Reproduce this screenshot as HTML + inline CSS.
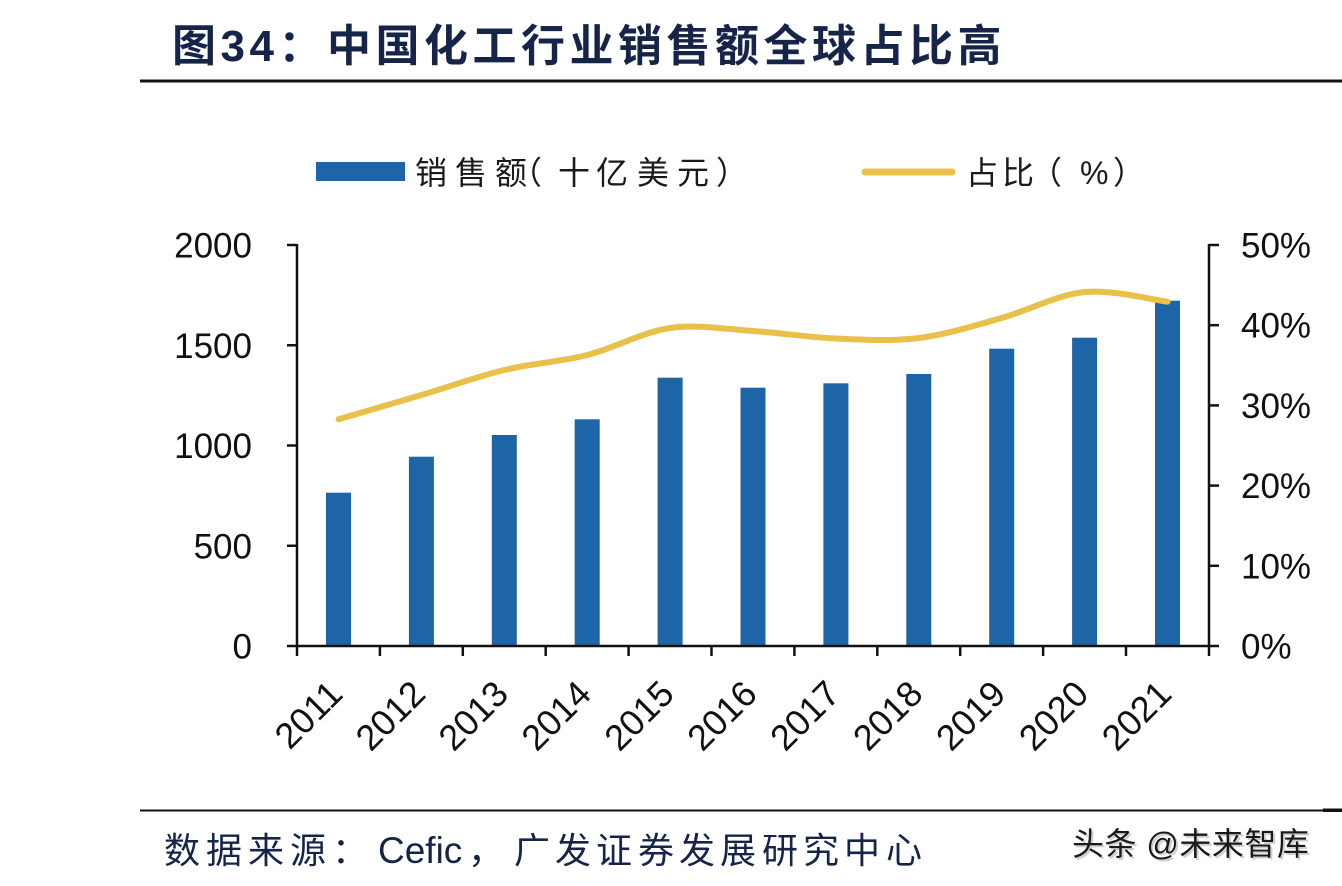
<!DOCTYPE html>
<html>
<head>
<meta charset="utf-8">
<style>
  html,body{margin:0;padding:0;background:#ffffff;}
  body{width:1342px;height:886px;overflow:hidden;}
  svg{display:block;}
  .num{font-family:"Liberation Sans",Arial,sans-serif;font-size:35px;fill:#111;}
  .xl{font-family:"Liberation Sans",Arial,sans-serif;font-size:36px;fill:#111;}
  .cjk{font-family:"Liberation Sans","Noto Sans CJK SC",sans-serif;}
</style>
</head>
<body>
<svg width="1342" height="886" viewBox="0 0 1342 886" xmlns="http://www.w3.org/2000/svg">
  <rect x="0" y="0" width="1342" height="886" fill="#ffffff"/>

  <!-- Title -->
  <text class="cjk" x="172" y="61" font-size="44" font-weight="bold" fill="#16244a" letter-spacing="4.5">图34：中国化工行业销售额全球占比高</text>
  <rect x="140" y="79.5" width="1202" height="3" fill="#111"/>

  <!-- Legend -->
  <rect x="316" y="162" width="89" height="19" fill="#1d65a6"/>
  <text class="cjk" font-size="32" fill="#1a1a1a" y="184" x="415 455 495 510 558 596 637 677 716">销售额（十亿美元）</text>
  <line x1="865" y1="172" x2="952" y2="172" stroke="#e9c04a" stroke-width="7" stroke-linecap="round"/>
  <text class="cjk" font-size="32" fill="#1a1a1a" y="184" x="966 1002 1030">占比（</text>
  <text font-family="Liberation Sans, Arial, sans-serif" font-size="32" fill="#1a1a1a" x="1080" y="184">%</text>
  <text class="cjk" font-size="32" fill="#1a1a1a" x="1113" y="184">）</text>

  <!-- Bars -->
  <g fill="#1d65a6">
    <rect x="326" y="492.7" width="25" height="153.3"/>
    <rect x="408.9" y="456.7" width="25" height="189.3"/>
    <rect x="491.8" y="435" width="25" height="211"/>
    <rect x="574.7" y="419.3" width="25" height="226.7"/>
    <rect x="657.6" y="377.7" width="25" height="268.3"/>
    <rect x="740.5" y="387.7" width="25" height="258.3"/>
    <rect x="823.4" y="383.3" width="25" height="262.7"/>
    <rect x="906.3" y="374" width="25" height="272"/>
    <rect x="989.2" y="348.7" width="25" height="297.3"/>
    <rect x="1072.1" y="337.7" width="25" height="308.3"/>
    <rect x="1155" y="300.7" width="25" height="345.3"/>
  </g>

  <!-- Line -->
  <path d="M338.5,419.3 C352.3,415.25 393.8,403.2 421.4,395
           C449.0,386.8 476.7,376.7 504.3,370
           C531.9,363.3 559.6,362 587.2,355
           C614.8,348 642.5,332 670.1,328
           C697.7,324 725.4,329.25 753.0,331
           C780.6,332.75 808.3,337.3 835.9,338.5
           C863.5,339.67 891.2,341.4 918.8,338
           C946.4,334.6 974.1,325.7 1001.7,318
           C1029.3,310.3 1057.0,294.7 1084.6,292
           C1112.2,289.3 1153.7,300.1 1167.5,301.7"
        fill="none" stroke="#e9c04a" stroke-width="6" stroke-linecap="round" stroke-linejoin="round"/>

  <!-- Axes -->
  <g stroke="#111" stroke-width="2.5" fill="none">
    <line x1="297" y1="244" x2="297" y2="647"/>
    <line x1="1209" y1="244" x2="1209" y2="647"/>
    <line x1="296" y1="646" x2="1210" y2="646"/>
    <line x1="287" y1="245" x2="297" y2="245"/>
    <line x1="287" y1="345.25" x2="297" y2="345.25"/>
    <line x1="287" y1="445.5" x2="297" y2="445.5"/>
    <line x1="287" y1="545.75" x2="297" y2="545.75"/>
    <line x1="287" y1="646" x2="297" y2="646"/>
    <line x1="1209" y1="245" x2="1219" y2="245"/>
    <line x1="1209" y1="325.2" x2="1219" y2="325.2"/>
    <line x1="1209" y1="405.4" x2="1219" y2="405.4"/>
    <line x1="1209" y1="485.6" x2="1219" y2="485.6"/>
    <line x1="1209" y1="565.8" x2="1219" y2="565.8"/>
    <line x1="1209" y1="646" x2="1219" y2="646"/>
    <line x1="297" y1="646" x2="297" y2="656"/>
    <line x1="379.9" y1="646" x2="379.9" y2="656"/>
    <line x1="462.8" y1="646" x2="462.8" y2="656"/>
    <line x1="545.7" y1="646" x2="545.7" y2="656"/>
    <line x1="628.6" y1="646" x2="628.6" y2="656"/>
    <line x1="711.5" y1="646" x2="711.5" y2="656"/>
    <line x1="794.4" y1="646" x2="794.4" y2="656"/>
    <line x1="877.3" y1="646" x2="877.3" y2="656"/>
    <line x1="960.2" y1="646" x2="960.2" y2="656"/>
    <line x1="1043.1" y1="646" x2="1043.1" y2="656"/>
    <line x1="1126" y1="646" x2="1126" y2="656"/>
    <line x1="1209" y1="646" x2="1209" y2="656"/>
  </g>

  <!-- Left axis labels -->
  <g class="num" text-anchor="end">
    <text x="252" y="257.5">2000</text>
    <text x="252" y="357.75">1500</text>
    <text x="252" y="458">1000</text>
    <text x="252" y="558.25">500</text>
    <text x="252" y="658.5">0</text>
  </g>

  <!-- Right axis labels -->
  <g class="num">
    <text x="1241" y="257.5">50%</text>
    <text x="1241" y="337.7">40%</text>
    <text x="1241" y="417.9">30%</text>
    <text x="1241" y="498.1">20%</text>
    <text x="1241" y="578.3">10%</text>
    <text x="1241" y="658.5">0%</text>
  </g>

  <!-- X labels -->
  <g class="xl" text-anchor="end">
    <text transform="translate(344.5,696) rotate(-45)">2011</text>
    <text transform="translate(427.4,696) rotate(-45)">2012</text>
    <text transform="translate(510.3,696) rotate(-45)">2013</text>
    <text transform="translate(593.2,696) rotate(-45)">2014</text>
    <text transform="translate(676.1,696) rotate(-45)">2015</text>
    <text transform="translate(759,696) rotate(-45)">2016</text>
    <text transform="translate(841.9,696) rotate(-45)">2017</text>
    <text transform="translate(924.8,696) rotate(-45)">2018</text>
    <text transform="translate(1007.7,696) rotate(-45)">2019</text>
    <text transform="translate(1090.6,696) rotate(-45)">2020</text>
    <text transform="translate(1173.5,696) rotate(-45)">2021</text>
  </g>

  <!-- Footer -->
  <rect x="140" y="809.5" width="1202" height="2" fill="#111"/>
  <rect x="1323" y="808.5" width="19" height="3.5" fill="#111"/>
  <text class="cjk" font-size="36" fill="#16244a" y="863" x="164 206 248 290 332">数据来源：</text>
  <text font-family="Liberation Sans, Arial, sans-serif" font-size="37" fill="#16244a" x="378" y="863">Cefic</text>
  <text class="cjk" font-size="36" fill="#16244a" y="863" x="468 514 555 596 638 679 720 762 803 844 886">，广发证券发展研究中心</text>

  <!-- Watermark -->
  <text class="cjk" font-size="32" fill="#cfcfcf" x="1074" y="857" letter-spacing="0.5">头条 @未来智库</text>
  <text class="cjk" font-size="32" fill="#1a1a1a" x="1072" y="855" letter-spacing="0.5">头条 @未来智库</text>
</svg>
</body>
</html>
